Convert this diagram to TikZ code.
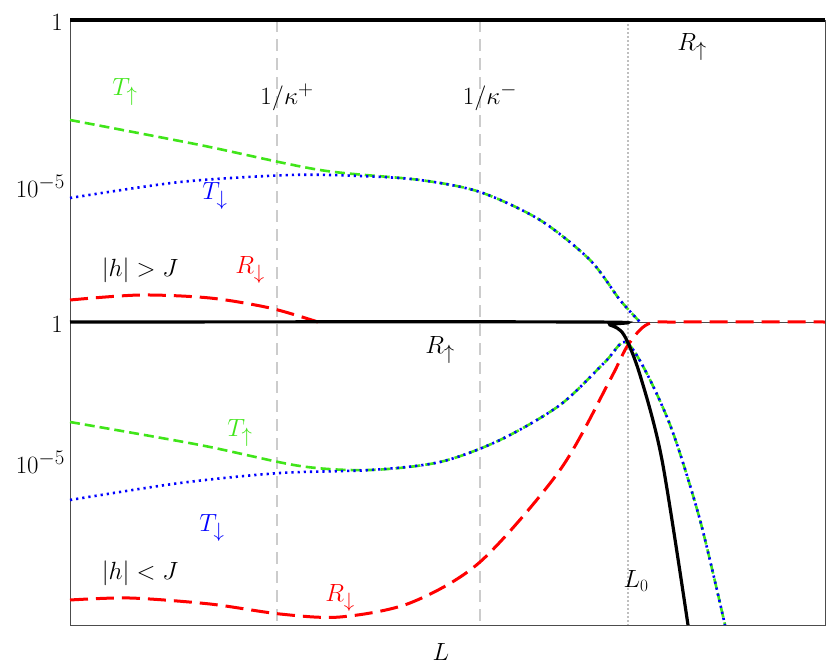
\documentclass[tikz,border=0pt]{standalone}
\usepackage{amsmath}
\definecolor{tgreen}{rgb}{0.25,0.9,0.1}
\tikzset{
  frameline/.style={black!70,line width=0.8pt},
  guide/.style={gray!40,line width=2pt,dash pattern=on 12pt off 7pt},
  lzero/.style={gray!50,line width=1.5pt,dash pattern=on 1.5pt off 2.5pt},
  rup/.style={black,line width=3.2pt},
  tup/.style={tgreen,line width=2.6pt,dash pattern=on 10pt off 5pt},
  tdown/.style={blue,line width=2.6pt,dash pattern=on 2.2pt off 4pt},
  rdown/.style={red,line width=3pt,dash pattern=on 18pt off 8pt},
  lab/.style={font=\fontsize{32}{36}\selectfont,inner sep=1pt}
}
\begin{document}
\begin{tikzpicture}[x=1pt,y=-1pt]
  \useasboundingbox (0,0) rectangle (831,672);
  % frame
  \draw[frameline] (70,20) rectangle (825,625);
  \draw[frameline] (70,322) -- (825,322);
  \draw[guide] (277,20) -- (277,625);
  \draw[guide] (480,20) -- (480,625);
  \draw[lzero] (628,20) -- (628,625);
  % ticks
  \node[lab,anchor=east,font=\fontsize{28}{32}\selectfont] (one1) at (64,22) {$1$};
  \node[lab,anchor=east,font=\fontsize{28}{32}\selectfont] (ten1) at (66,186) {$10^{-5}$};
  \node[lab,anchor=east,font=\fontsize{28}{32}\selectfont] (one2) at (64,324) {$1$};
  \node[lab,anchor=east,font=\fontsize{28}{32}\selectfont] (ten2) at (66,462) {$10^{-5}$};
  \node[lab] (xlab) at (441,652) {$L$};
  % upper panel, |h|>J
  \draw[rup] (70,20) -- (825,20);
  \draw[tup] plot[smooth] coordinates {(70,120) (200,145) (320,170) (420,180) (480,192) (540,220) (590,260) (620,300) (640,322)};
  \draw[tdown] plot[smooth] coordinates {(70,198) (180,182) (290,175) (360,176) (420,180) (480,192) (540,220) (590,260) (620,300) (640,322)};
  \draw[rdown] plot[smooth] coordinates {(70,300) (140,295) (210,298) (270,308) (318,322)};
  \node[lab,tgreen] (tu1) at (125,92) {$T_{\uparrow}$};
  \node[lab] (kp) at (287,97) {$1/\kappa^{+}$};
  \node[lab] (km) at (490,97) {$1/\kappa^{-}$};
  \node[lab] (ru1) at (692,47) {$R_{\uparrow}$};
  \node[lab,blue] (td1) at (215,196) {$T_{\downarrow}$};
  \node[lab] (hg) at (140,270) {$|h|>J$};
  \node[lab,red] (rd1) at (250,270) {$R_{\downarrow}$};
  % lower panel, |h|<J
  \draw[tup] plot[smooth] coordinates {(70,422) (200,445) (300,466) (370,470) (440,462) (500,440) (560,405) (605,362) (625,342) (645,370) (672,430) (700,520) (725,625)};
  \draw[tdown] plot[smooth] coordinates {(70,500) (180,483) (280,473) (370,470) (440,462) (500,440) (560,405) (605,362) (625,342) (645,370) (672,430) (700,520) (725,625)};
  \draw[rdown] plot[smooth] coordinates {(70,600) (130,598) (210,604) (280,614) (340,617) (410,603) (480,562) (560,470) (610,380) (628,345) (648,324) (680,322) (825,322)};
  \draw[rup] plot[smooth] coordinates {(70,322) (590,322) (610,325) (624,335) (640,375) (662,460) (688,625)};
  \node[lab] (ru2) at (440,350) {$R_{\uparrow}$};
  \node[lab,tgreen] (tu2) at (240,433) {$T_{\uparrow}$};
  \node[lab,blue] (td2) at (212,528) {$T_{\downarrow}$};
  \node[lab] (hl) at (140,573) {$|h|<J$};
  \node[lab,red] (rd2) at (340,598) {$R_{\downarrow}$};
  \node[lab,font=\fontsize{24}{28}\selectfont] (lz) at (636,581) {$L_0$};
\end{tikzpicture}
\end{document}
